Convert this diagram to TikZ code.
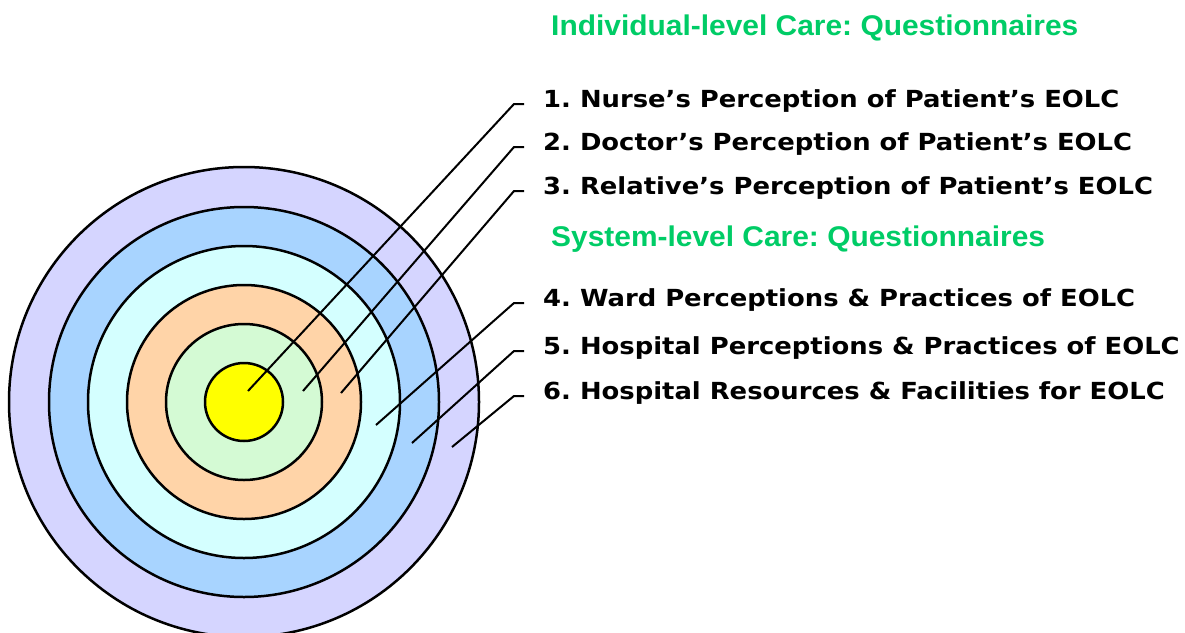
\documentclass[tikz,border=0pt]{standalone}
\usepackage{fontspec}
\usetikzlibrary{calc}
\frenchspacing

\newfontfamily\itemfont[FakeStretch=1.1]{DejaVu Sans}
\newfontfamily\headfont[FakeStretch=1.05]{Liberation Sans}

\definecolor{ringA}{RGB}{255,255,0}
\definecolor{ringB}{RGB}{212,250,212}
\definecolor{ringC}{RGB}{255,212,168}
\definecolor{ringD}{RGB}{212,255,255}
\definecolor{ringE}{RGB}{168,212,255}
\definecolor{ringF}{RGB}{213,213,255}
\definecolor{headgreen}{RGB}{0,204,102}

\tikzset{
  ring/.style={draw=black,line width=2.5pt},
  item/.style={anchor=base west,inner sep=0pt,font=\itemfont\bfseries\fontsize{23.5}{28}\selectfont},
  head/.style={anchor=base west,inner sep=0pt,text=headgreen,font=\headfont\bfseries\fontsize{28.5}{34}\selectfont},
  leader/.style={draw=black,line width=2pt}
}

\begin{document}
\begin{tikzpicture}[x=1pt,y=-1pt]
	\useasboundingbox (0,0) rectangle (1185,632);
	\clip (0,0) rectangle (1185,632);

	% Target rings, outer to inner
	\coordinate (ctr) at (244,402);
	\foreach \r/\c in {235/ringF,195/ringE,156/ringD,117/ringC,78/ringB,39/ringA}
		\draw[ring,fill=\c] (ctr) circle (\r);

	% Headings
	\node[head] (hind) at (551,35) {Individual-level Care: Questionnaires};
	\node[head] (hsys) at (551,246) {System-level Care: Questionnaires};

	% Questionnaire labels
	\node[item] (l1) at (543,107) {1. Nurse’s Perception of Patient’s EOLC};
	\node[item] (l2) at (543,150) {2. Doctor’s Perception of Patient’s EOLC};
	\node[item] (l3) at (543,194) {3. Relative’s Perception of Patient’s EOLC};
	\node[item] (l4) at (543,306) {4. Ward Perceptions \& Practices of EOLC};
	\node[item] (l5) at (543,354) {5. Hospital Perceptions \& Practices of EOLC};
	\node[item] (l6) at (543,399) {6. Hospital Resources \& Facilities for EOLC};

	% Leader end points inside the rings
	\coordinate (p1) at (248,391);
	\coordinate (p2) at (303,391);
	\coordinate (p3) at (341,393);
	\coordinate (p4) at (376,425);
	\coordinate (p5) at (412,443);
	\coordinate (p6) at (452,447);

	% Leaders with a short tick before each label
	\foreach \i in {1,...,6}
		\draw[leader] (p\i) -- ($(l\i.base west)+(-29,-3)$) -- ($(l\i.base west)+(-19,-3)$);
\end{tikzpicture}
\end{document}
